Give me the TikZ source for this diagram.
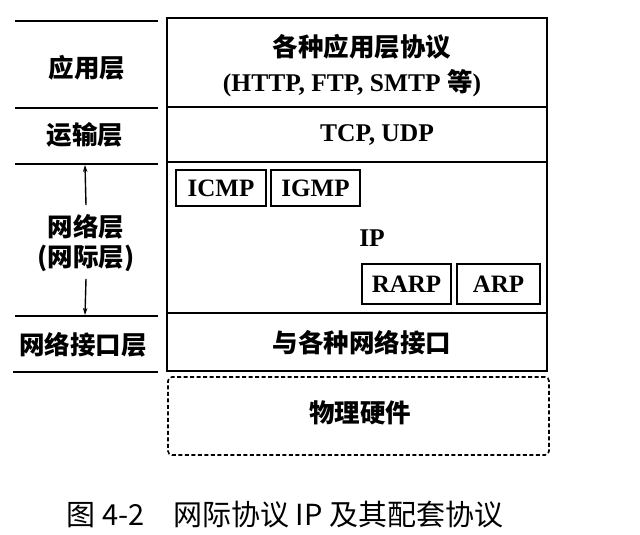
\documentclass[tikz,border=0pt]{standalone}
\usepackage{fontspec}
\setmainfont{Liberation Serif}
\newfontfamily\cjk{Noto Sans CJK SC}
\usetikzlibrary{arrows.meta}
\tikzset{
  lay/.style={draw, line width=1.6pt, inner sep=0pt, outer sep=0pt, align=center},
  sub/.style={draw, line width=1.4pt, inner sep=0pt, outer sep=0pt, minimum height=36pt,
              font=\fontsize{25}{28}\selectfont\bfseries},
  zh/.style={font=\fontsize{25.5}{30}\selectfont\cjk\bfseries},
  la/.style={font=\fontsize{25.5}{28}\selectfont\bfseries},
  rule/.style={line width=1.9pt},
  arr/.style={line width=1.4pt, -{Stealth[length=7pt,width=4.5pt]}},
}
\begin{document}
\begin{tikzpicture}[x=1pt,y=-1pt]
\useasboundingbox (0,0) rectangle (640,535);
% right stack
\node[lay, minimum width=380pt, minimum height=89pt] (app) at (357,62.5) {};
\node[lay, minimum width=380pt, minimum height=55pt] (tcp) at (357,134.5) {};
\node[lay, minimum width=380pt, minimum height=151pt] (net) at (357,237.5) {};
\node[lay, minimum width=380pt, minimum height=58pt] (nif) at (357,342) {};
\node[draw, dashed, dash pattern=on 4pt off 2.5pt, line width=1.6pt, rounded corners=4pt,
      minimum width=381pt, minimum height=78pt, inner sep=0pt] (phy) at (358.5,416) {};
% right texts
\node[zh] (t1) at (362,47) {各种应用层协议};
\node[la] (t2) at (352,83) {(HTTP, FTP, SMTP {\cjk\fontsize{25.5}{30}\selectfont 等})};
\node[la] (t3) at (377,135) {TCP, UDP};
\node[zh] (t4) at (362,343) {与各种网络接口};
\node[zh] (t5) at (360,413) {物理硬件};
% sub boxes
\node[sub, minimum width=90pt] (icmp) at (221,188) {ICMP};
\node[sub, minimum width=89pt] (igmp) at (315.5,188) {IGMP};
\node[la] (ip) at (372,238) {IP};
\node[sub, minimum width=89pt, minimum height=40pt] (rarp) at (406.5,284) {RARP};
\node[sub, minimum width=83pt, minimum height=40pt] (arp) at (498.5,284) {ARP};
% left column rules
\draw[rule] (15,21) -- (158,21);
\draw[rule] (15,108) -- (158,108);
\draw[rule] (15,164) -- (158,164);
\draw[rule] (15,316) -- (158,316);
\draw[rule] (13,372) -- (158,372);
\coordinate (top) at (85,165);
\coordinate (bot) at (85,315);
% left labels
\node[zh] (l1) at (87,68) {应用层};
\node[zh] (l2) at (85,135) {运输层};
\node[zh, align=center, inner sep=1pt] (l3) at (86,243) {网络层\\(网际层)};
\node[zh] (l4) at (83,345) {网络接口层};
\draw[arr] (l3.north) ++(0,-8) coordinate (as) (as) -- (top);
\draw[arr] (l3.south) ++(0,6) coordinate (bs) (bs) -- (bot);
% caption
\node[font=\fontsize{29}{32}\selectfont\cjk] (cap) at (285,515) {图 4-2\quad 网际协议 IP 及其配套协议};
\end{tikzpicture}
\end{document}
